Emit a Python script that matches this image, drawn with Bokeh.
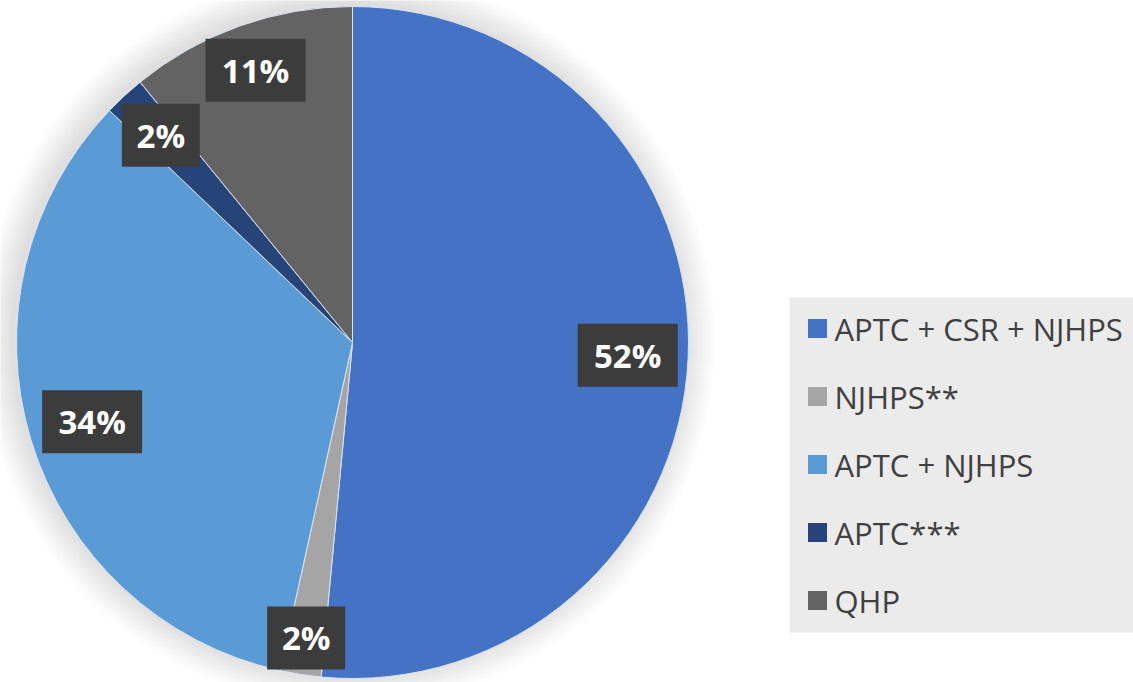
import math
from bokeh.plotting import figure
from bokeh.models import Range1d, ColumnDataSource
from bokeh.core.properties import value
from bokeh.embed import file_html
from bokeh.resources import INLINE

# ---- data ----
categories = ["APTC + CSR + NJHPS", "NJHPS**", "APTC + NJHPS", "APTC***", "QHP"]
shares = [52, 2, 34, 2, 11]
pct_labels = ["52%", "2%", "34%", "2%", "11%"]
colors = ["#4472C4", "#A5A5A5", "#5B9BD5", "#264478", "#636363"]

# ---- layout ----
W, H = 1133, 682
cx, cy, R = 352, H - 342, 336
label_rfrac = [0.82, 0.89, 0.81, 0.84, 0.86]

p = figure(width=W, height=H, output_backend="svg", toolbar_location=None,
           x_range=Range1d(0, W), y_range=Range1d(0, H), min_border=0)
p.axis.visible = False
p.grid.visible = False
p.outline_line_color = None
p.background_fill_color = "white"
p.border_fill_color = "white"

# soft shadow
for i in range(16):
    p.circle(x=[cx - 4], y=[cy + 3], radius=R + 1 + i * 2.0, fill_color="#000000",
             fill_alpha=0.009, line_color=None)

total = float(sum(shares))
starts, ends, mids = [], [], []
cum = 0.0
for v in shares:
    a0 = cum / total * 2 * math.pi
    cum += v
    a1 = cum / total * 2 * math.pi
    starts.append(math.pi / 2 - a0)
    ends.append(math.pi / 2 - a1)
    mids.append((a0 + a1) / 2)

src = ColumnDataSource(dict(start=starts, end=ends, color=colors))
p.wedge(x=cx, y=cy, radius=R, start_angle="start", end_angle="end", direction="clock",
        fill_color="color", line_color="#DCE4F2", line_width=1, source=src)

lx = [cx + f * R * math.sin(m) for f, m in zip(label_rfrac, mids)]
ly = [cy + f * R * math.cos(m) for f, m in zip(label_rfrac, mids)]
bw = [100 if len(t) > 2 else 78 for t in pct_labels]
lsrc = ColumnDataSource(dict(x=lx, y=ly, w=bw, t=pct_labels))
p.rect(x="x", y="y", width="w", height=63, fill_color="#3C3C3C", line_color=None, source=lsrc)
p.text(x="x", y="y", text="t", text_color="white", text_font=value("Open Sans"),
       text_font_style="bold", text_font_size="33px", text_align="center",
       text_baseline="middle", source=lsrc)

# legend box
leg_left, leg_top, leg_bottom = 789, 297, 632
p.quad(left=leg_left, right=W, top=H - leg_top, bottom=H - leg_bottom,
       fill_color="#EBEBEB", line_color=None)
item_y = [H - (328 + i * 68) for i in range(len(categories))]
isrc = ColumnDataSource(dict(y=item_y, c=colors, t=categories))
p.rect(x=817, y="y", width=19, height=19, fill_color="c", line_color=None, source=isrc)
p.text(x=834, y="y", text="t", text_color="#404040", text_font=value("Open Sans"),
       text_font_size="31px", text_align="left", text_baseline="middle", source=isrc)

open("out.html", "w").write(file_html(p, INLINE))
